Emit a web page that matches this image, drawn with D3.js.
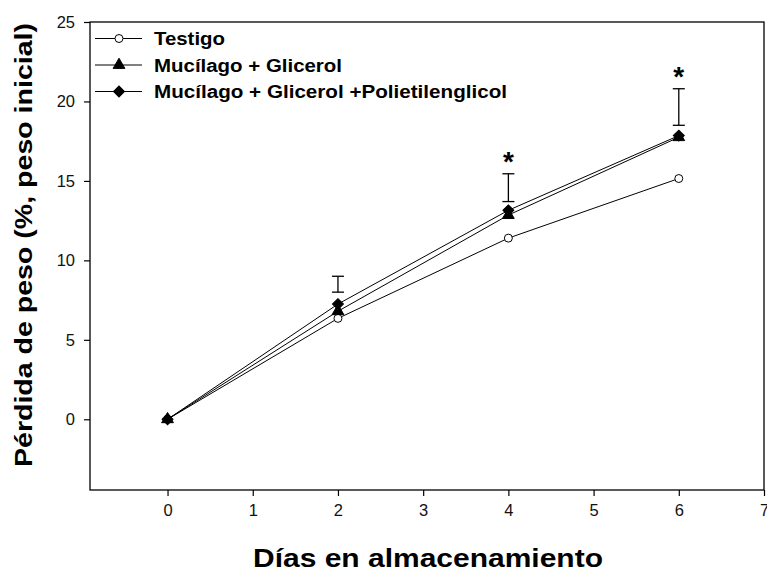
<!DOCTYPE html>
<html>
<head>
<meta charset="utf-8">
<script src="https://cdn.jsdelivr.net/npm/d3@7"></script>
<style>
  body { margin: 0; background: #fff; }
  text { font-family: "Liberation Sans", Arial, sans-serif; }
</style>
</head>
<body>
<div id="chart"></div>
<script>
// Data
var days = [0, 2, 4, 6];
var testigo = [0, 6.35, 11.4, 15.15];
var mucGli = [0, 6.8, 12.85, 17.75];
var mucGliPeg = [0, 7.25, 13.15, 17.85];
var errLow = [null, 8.0, 13.7, 18.5];
var errHigh = [null, 9.0, 15.45, 20.8];
var signif = [false, false, true, true];
var xTicks = [0, 1, 2, 3, 4, 5, 6, 7];
var yTicks = [0, 5, 10, 15, 20, 25];
var seriesNames = ["Testigo", "Mucílago + Glicerol", "Mucílago + Glicerol +Polietilenglicol"];
var legendWidths = [71, 188, 353];

var svgWidth = 767;
var svgHeight = 571;
var margin = { top: 22, right: 3, bottom: 81, left: 90 };
var width = svgWidth - margin.left - margin.right;
var height = svgHeight - margin.top - margin.bottom;

var svg = d3.select("#chart")
    .append("svg")
    .attr("width", svgWidth)
    .attr("height", svgHeight);

var chartGroup = svg.append("g")
    .attr("transform", `translate(${margin.left}, ${margin.top})`);

var x = d3.scaleLinear().domain([-0.91, 7]).range([0, width]);
var y = d3.scaleLinear().domain([-4.45, 25]).range([height, 0]);

// frame
chartGroup.append("rect")
    .attr("width", width)
    .attr("height", height)
    .attr("fill", "none")
    .attr("stroke", "#000")
    .attr("stroke-width", 1.3);

// axes
var xAxis = chartGroup.append("g")
    .attr("transform", `translate(0, ${height})`)
    .call(d3.axisBottom(x).tickValues(xTicks).tickSize(6).tickPadding(8).tickFormat(d3.format("d")));
var yAxis = chartGroup.append("g")
    .call(d3.axisLeft(y).tickValues(yTicks).tickSize(6).tickPadding(9));
[xAxis, yAxis].forEach(function (a) {
    a.select(".domain").remove();
    a.selectAll("line").attr("stroke", "#000").attr("stroke-width", 1.2);
    a.selectAll("text")
        .attr("font-size", "16.5px")
        .attr("fill", "#111")
        .style("font-family", "'Liberation Sans', Arial, sans-serif");
});

// lines
var line = d3.line().x((d, i) => x(days[i])).y(d => y(d));
[testigo, mucGli, mucGliPeg].forEach(function (s) {
    chartGroup.append("path")
        .datum(s)
        .attr("d", line)
        .attr("fill", "none")
        .attr("stroke", "#000")
        .attr("stroke-width", 1);
});

// error bars (floating I-beams) and asterisks
var eb = days.map((d, i) => ({ d: d, lo: errLow[i], hi: errHigh[i], s: signif[i] }))
    .filter(e => e.lo !== null);
var capW = 6;
eb.forEach(function (e) {
    var g = chartGroup.append("g").attr("stroke", "#000").attr("stroke-width", 1.3);
    g.append("line").attr("x1", x(e.d)).attr("x2", x(e.d)).attr("y1", y(e.lo)).attr("y2", y(e.hi));
    g.append("line").attr("x1", x(e.d) - capW).attr("x2", x(e.d) + capW).attr("y1", y(e.lo)).attr("y2", y(e.lo));
    g.append("line").attr("x1", x(e.d) - capW).attr("x2", x(e.d) + capW).attr("y1", y(e.hi)).attr("y2", y(e.hi));
    if (e.s) {
        chartGroup.append("text")
            .attr("x", x(e.d))
            .attr("y", y(e.hi) - 3)
            .attr("text-anchor", "middle")
            .attr("font-size", "28px")
            .attr("font-weight", "bold")
            .text("*");
    }
});

// markers
var circleSym = d3.symbol().type(d3.symbolCircle).size(50);
var triSym = d3.symbol().type(d3.symbolTriangle).size(60);
var diaSym = d3.symbol().type(d3.symbolSquare).size(60);

function drawMarkers(s, kind) {
    chartGroup.selectAll(null)
        .data(s)
        .enter()
        .append("path")
        .attr("transform", function (d, i) {
            var t = `translate(${x(days[i])}, ${y(d)})`;
            return kind === "dia" ? t + " rotate(45)" : t;
        })
        .attr("d", kind === "circle" ? circleSym : kind === "tri" ? triSym : diaSym)
        .attr("fill", kind === "circle" ? "#fff" : "#000")
        .attr("stroke", "#000")
        .attr("stroke-width", 1);
}
drawMarkers(testigo, "circle");
drawMarkers(mucGli, "tri");
drawMarkers(mucGliPeg, "dia");

// legend
var legend = chartGroup.append("g").attr("transform", "translate(5, 16.5)");
var kinds = ["circle", "tri", "dia"];
seriesNames.forEach(function (name, i) {
    var gy = i * 26.5;
    legend.append("line")
        .attr("x1", 0).attr("x2", 47)
        .attr("y1", gy).attr("y2", gy)
        .attr("stroke", "#000").attr("stroke-width", 1);
    var k = kinds[i];
    legend.append("path")
        .attr("transform", `translate(24, ${gy})` + (k === "dia" ? " rotate(45)" : ""))
        .attr("d", k === "circle" ? circleSym : k === "tri" ? triSym : diaSym)
        .attr("fill", k === "circle" ? "#fff" : "#000")
        .attr("stroke", "#000");
    legend.append("text")
        .attr("x", 59)
        .attr("y", gy + 6.5)
        .attr("font-size", "18px")
        .attr("font-weight", "bold")
        .attr("textLength", legendWidths[i])
        .attr("lengthAdjust", "spacingAndGlyphs")
        .text(name);
});

// axis titles
svg.append("text")
    .attr("x", 428)
    .attr("y", 567)
    .attr("text-anchor", "middle")
    .attr("font-size", "26px")
    .attr("font-weight", "bold")
    .attr("textLength", 350)
    .attr("lengthAdjust", "spacingAndGlyphs")
    .text("Días en almacenamiento");

svg.append("text")
    .attr("transform", "rotate(-90)")
    .attr("x", -245)
    .attr("y", 32)
    .attr("text-anchor", "middle")
    .attr("font-size", "24px")
    .attr("font-weight", "bold")
    .attr("textLength", 444)
    .attr("lengthAdjust", "spacingAndGlyphs")
    .text("Pérdida de peso (%, peso inicial)");
</script>
</body>
</html>
